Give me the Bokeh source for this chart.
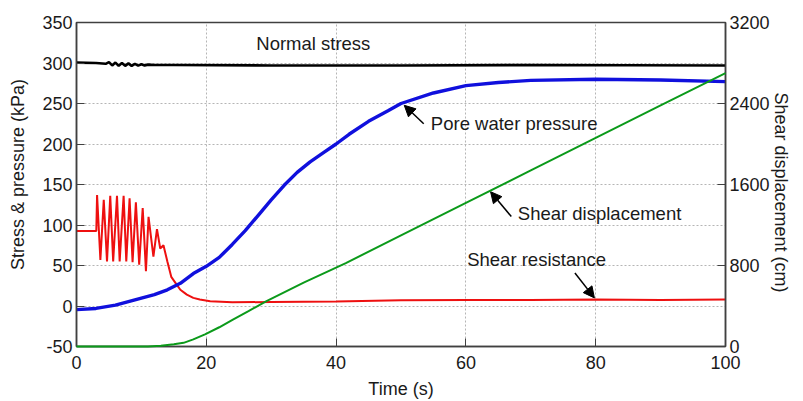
import math
from bokeh.plotting import figure
from bokeh.models import (Range1d, LinearAxis, FixedTicker, Label, Arrow, NormalHead,
                          CustomJSTickFormatter)
from bokeh.embed import file_html
from bokeh.resources import INLINE

# ---------------- data ----------------
x_ticks = [0, 20, 40, 60, 80, 100]
left_ticks = [-50, 0, 50, 100, 150, 200, 250, 300, 350]
right_ticks = [0, 800, 1600, 2400, 3200]

# Normal stress (kPa)
ns_t = [0, 3, 4.5, 5, 5.5, 6, 6.5, 7, 7.5, 8, 8.5, 9, 9.5, 10, 10.5, 11, 12, 15, 30, 50, 70, 100]
ns_v = [300.5, 300, 299, 301, 297, 300.5, 296.5, 300, 296.5, 299.5, 296.5, 299, 296.8, 298.5, 297, 298,
        297.5, 297.5, 297, 297, 297.5, 297]

# Pore water pressure (kPa)
pw_t = [0, 3, 6, 9, 12, 14, 16, 18, 20, 22, 24, 26, 28, 30, 32, 34, 36, 38, 40, 42, 45, 48, 50, 55,
        60, 65, 70, 80, 90, 100]
pw_v = [-4.5, -3, 1, 7.5, 14, 20, 28, 40, 49, 60, 76, 93, 112, 131, 149, 165, 178, 189, 200, 212, 228,
        241, 250, 263, 272, 276, 278.5, 280, 279, 277]

# Shear resistance (kPa)
sr_t = [0, 3.05, 3.17, 3.68, 4.2, 4.7, 5.2, 5.65, 6.24, 6.65, 7.26, 7.67, 8.18, 8.64, 9.15, 9.66, 10.2,
        10.7, 11.1, 11.85, 12.4, 12.9, 13.4, 14.0, 14.6, 15.3, 16.0, 17.0, 18.0, 19.0, 20.6, 24, 30, 40,
        50, 60, 70, 80, 90, 100]
sr_v = [92.5, 92.5, 137, 57, 131, 55, 136, 55, 136, 55, 136, 55, 133, 54, 128, 51, 121, 43, 110, 61, 95,
        71, 75, 55, 36, 28, 20, 14, 10, 8, 6, 4.5, 5, 5.5, 7, 7.5, 7.5, 8, 7.5, 8]

# Shear displacement (cm)
sd_t = [0, 11, 13, 15, 16.5, 18, 19.8, 22, 24.1, 26.5, 29.2, 35, 41.5, 50, 60, 70, 80, 90, 100]
sd_v = [0, 0, 8, 22, 36, 70, 120, 190, 266, 350, 445, 630, 824, 1097, 1418, 1740, 2061, 2381, 2701]

FONT = "Liberation Sans"
TXT = "#1a1a1a"
NB = "\u00a0"

p = figure(width=803, height=401, x_range=Range1d(0, 100), y_range=Range1d(-50, 350),
           output_backend="svg", toolbar_location=None,
           min_border_left=76, min_border_right=75, min_border_top=22, min_border_bottom=54)
p.extra_y_ranges = {"disp": Range1d(0, 3200)}

p.outline_line_color = "#404040"
p.outline_line_width = 1.5
p.background_fill_color = "white"
p.border_fill_color = "white"

p.xaxis.ticker = FixedTicker(ticks=x_ticks)
p.yaxis.ticker = FixedTicker(ticks=left_ticks)
p.yaxis.formatter = CustomJSTickFormatter(code="return tick.toString();")

ax_r = LinearAxis(y_range_name="disp", ticker=FixedTicker(ticks=right_ticks))
p.add_layout(ax_r, "right")

for ax in [p.xaxis[0], p.yaxis[0], ax_r]:
    ax.axis_line_color = "#404040"
    ax.axis_line_width = 1.5
    ax.major_tick_in = 8
    ax.major_tick_out = 0
    ax.minor_tick_in = 0
    ax.minor_tick_out = 0
    ax.major_tick_line_color = "#404040"
    ax.major_label_text_font = FONT
    ax.major_label_text_font_size = "18px"
    ax.major_label_text_color = TXT
    ax.axis_label_text_font = FONT
    ax.axis_label_text_font_size = "18px"
    ax.axis_label_text_font_style = "normal"
    ax.axis_label_text_color = TXT

p.xaxis.major_label_standoff = 9
p.xaxis.axis_label = "Time (s)"
p.xaxis.axis_label_standoff = 7

p.yaxis[0].major_label_standoff = 4
p.yaxis[0].axis_label = NB * 4 + "Stress & pressure (kPa)"
p.yaxis[0].axis_label_standoff = 11

ax_r.major_label_standoff = 4
ax_r.axis_label = NB * 14 + "Shear displacement (cm)"
ax_r.axis_label_standoff = 8
ax_r.axis_label_orientation = -math.pi / 2
ax_r.axis_label_align = "end"

for g in [p.xgrid[0], p.ygrid[0]]:
    g.grid_line_color = "#b5b5b5"
    g.grid_line_dash = "2 2"
    g.grid_line_width = 1

# ---------------- series ----------------
p.line(sd_t, sd_v, y_range_name="disp", line_color="#0b9a1a", line_width=2, level="overlay")
p.line(sr_t, sr_v, line_color="#ee1010", line_width=2)
p.line(pw_t, pw_v, line_color="#1010dd", line_width=3.4)
p.line(ns_t, ns_v, line_color="#000000", line_width=2.6)

# ---------------- annotations ----------------
def lab(x, y, text):
    p.add_layout(Label(x=x, y=y, text=text, text_font=FONT, text_font_size="18.5px",
                       text_color=TXT, text_baseline="middle", text_align="left"))

lab(27.7, 323.8, "Normal stress")
lab(54.6, 225, "Pore water pressure")
lab(68.0, 114.6, "Shear displacement")
lab(60.2, 57.1, "Shear resistance")

def arrow(x0, y0, x1, y1):
    p.add_layout(Arrow(end=NormalHead(size=11, fill_color="black", line_color="black"),
                       x_start=x0, y_start=y0, x_end=x1, y_end=y1,
                       line_color="black", line_width=1.5))

arrow(53.5, 225, 50.5, 247.8)
arrow(67.0, 110.4, 63.8, 141.1)
arrow(76.8, 40.7, 79.8, 10)

open("out.html", "w").write(file_html(p, INLINE))
